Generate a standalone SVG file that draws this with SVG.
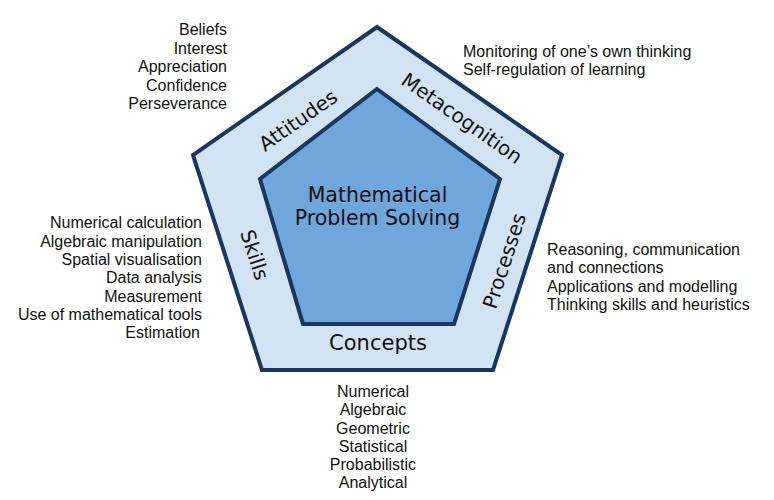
<svg xmlns="http://www.w3.org/2000/svg" width="774" height="500" viewBox="0 0 774 500">
<style>
.list{font-family:"Liberation Sans",Arial,sans-serif;font-size:16px;fill:#111}
.lbl{font-family:"DejaVu Sans",Verdana,sans-serif;font-size:20px;fill:#111;text-anchor:middle}
.r{text-anchor:end}
.c{text-anchor:middle}
.pent{stroke:#17375E;stroke-width:4;stroke-linejoin:miter}
</style>
<rect width="774" height="500" fill="#ffffff"/>
<g id="outer">
<polygon class="pent" points="377,27 562,155 493,370 262,370 193,155" fill="#D2E3F4"/>
</g>
<g id="inner">
<polygon class="pent" points="377,89 500,179 454,324 303,324 260,179" fill="#6FA6DC"/>
<text class="lbl" x="377.5" y="202" style="font-size:20.5px">Mathematical</text>
<text class="lbl" x="377.5" y="225" style="font-size:20.5px">Problem Solving</text>
</g>
<g id="attitudes">
<text class="lbl" transform="translate(302,126) rotate(-35)">Attitudes</text>
<text class="list r" x="227" y="35">Beliefs</text>
<text class="list r" x="227" y="53.5">Interest</text>
<text class="list r" x="227" y="72">Appreciation</text>
<text class="list r" x="227" y="90.5">Confidence</text>
<text class="list r" x="227" y="109">Perseverance</text>
</g>
<g id="metacognition">
<text class="lbl" transform="translate(458,124) rotate(35)">Metacognition</text>
<text class="list" x="463" y="57">Monitoring of one’s own thinking</text>
<text class="list" x="463" y="75">Self-regulation of learning</text>
</g>
<g id="processes">
<text class="lbl" transform="translate(511,263) rotate(-72)">Processes</text>
<text class="list" x="547" y="255">Reasoning, communication</text>
<text class="list" x="547" y="273">and connections</text>
<text class="list" x="547" y="292">Applications and modelling</text>
<text class="list" x="547" y="310">Thinking skills and heuristics</text>
</g>
<g id="concepts">
<text class="lbl" x="378" y="350" style="font-size:21px">Concepts</text>
<text class="list c" x="373" y="397">Numerical</text>
<text class="list c" x="373" y="415">Algebraic</text>
<text class="list c" x="373" y="433.5">Geometric</text>
<text class="list c" x="373" y="451.5">Statistical</text>
<text class="list c" x="373" y="470">Probabilistic</text>
<text class="list c" x="373" y="488">Analytical</text>
</g>
<g id="skills">
<text class="lbl" transform="translate(248,257) rotate(72)">Skills</text>
<text class="list r" x="202" y="228">Numerical calculation</text>
<text class="list r" x="202" y="246.5">Algebraic manipulation</text>
<text class="list r" x="202" y="265">Spatial visualisation</text>
<text class="list r" x="202" y="283">Data analysis</text>
<text class="list r" x="202" y="301.5">Measurement</text>
<text class="list r" x="202" y="320">Use of mathematical tools</text>
<text class="list r" x="200" y="338">Estimation</text>
</g>
<g id="connectors"></g>
</svg>
